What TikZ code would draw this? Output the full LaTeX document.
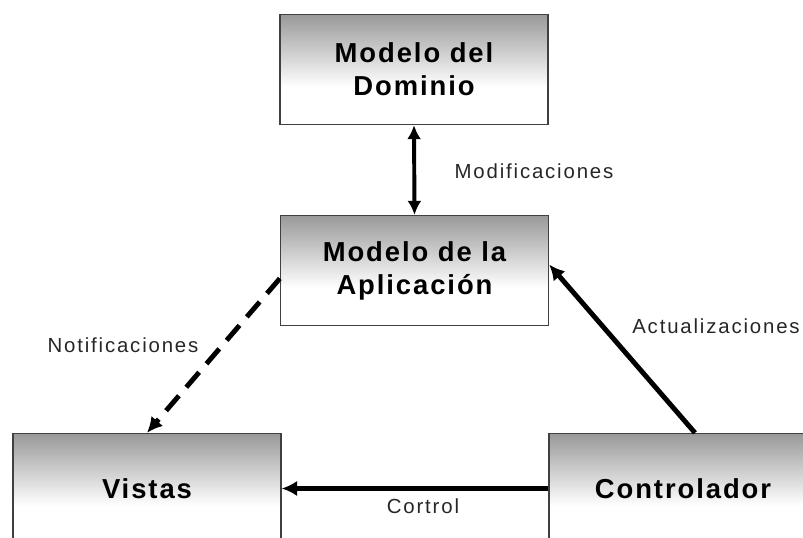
\documentclass[tikz,border=0pt]{standalone}
\usepackage{fontspec}
\setmainfont{Liberation Sans}
\newfontfamily\cajafont[LetterSpace=7]{Liberation Sans}
\newfontfamily\etiquetafont[LetterSpace=9]{Liberation Sans}
\usetikzlibrary{arrows.meta}
\pgfdeclareverticalshading{cajagris}{100bp}{color(0bp)=(white); color(42bp)=(white); color(75bp)=(black!40); color(100bp)=(black!40)}

\begin{document}
\begin{tikzpicture}[x=0.025cm, y=-0.025cm,
  caja/.style={draw=black!75, line width=0.9pt, shade, shading=cajagris, minimum width=6.7cm, minimum height=2.75cm, align=center, font=\cajafont\bfseries\fontsize{19.5}{23.5}\selectfont},
  etiqueta/.style={font=\etiquetafont\fontsize{14.5}{16}\selectfont, text=black!85}]
\useasboundingbox (0,0) rectangle (803,538);
% cajas del modelo
\node [caja](dominio) at (414,69.5){Modelo del\\Dominio};
\node [caja](aplicacion) at (414.5,270.5){Modelo de la\\Aplicaci\'on};
\node [caja](vistas) at (147,488.5){Vistas};
\node [caja](controlador) at (683,488.5){Controlador};

% flechas entre cajas
\draw[{Latex[length=10pt,width=10pt]}-{Latex[length=10pt,width=10pt]}, line width=2.8pt] (dominio.south) -- (aplicacion.north);
\draw[-{Latex[length=11pt,width=11pt]}, line width=3.5pt, dash pattern=on 14pt off 8pt] ([yshift=-0.2cm]aplicacion.west) -- (vistas.north);
\draw[-{Latex[length=11pt,width=11pt]}, line width=3.5pt] ([xshift=0.3cm]controlador.north) -- ([yshift=0.15cm]aplicacion.east);
\draw[-{Latex[length=11pt,width=11pt]}, line width=3.5pt] (controlador.west) -- (vistas.east);

% textos de las flechas
\node [etiqueta](modificaciones) at (534,171){Modificaciones};
\node [etiqueta](notificaciones) at (123,345){Notificaciones};
\node [etiqueta](actualizaciones) at (716,326){Actualizaciones};
\node [etiqueta](cortrol) at (423,506){Cortrol};
\end{tikzpicture}
\end{document}
